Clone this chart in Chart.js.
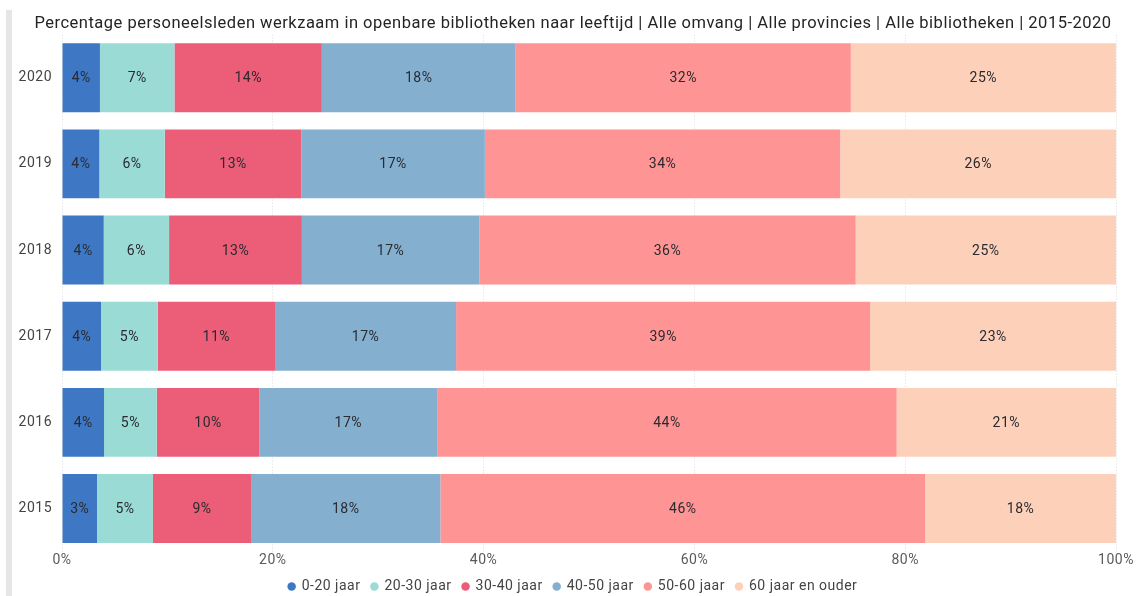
<!DOCTYPE html>
<html><head><meta charset="utf-8">
<script src="https://cdn.jsdelivr.net/npm/chart.js@4"></script>
<style>
html,body{margin:0;padding:0;background:#fff;}
#wrap{position:relative;width:1137px;height:596px;overflow:hidden;}
#stripe{position:absolute;left:6px;top:10px;width:6px;height:586px;background:#e6e6e6;}
canvas{position:absolute;left:0;top:0;}
</style></head><body>
<div id="wrap"><div id="stripe"></div><canvas id="c" width="1137" height="612"></canvas></div>
<script>
const years = ['2020','2019','2018','2017','2016','2015'];
const seriesNames = ['0-20 jaar','20-30 jaar','30-40 jaar','40-50 jaar','50-60 jaar','60 jaar en ouder'];
const age0to20  = [3.60, 3.54, 3.96, 3.70, 3.99, 3.32];
const age20to30 = [7.07, 6.21, 6.20, 5.38, 5.00, 5.31];
const age30to40 = [13.98, 12.96, 12.60, 11.13, 9.74, 9.30];
const age40to50 = [18.39, 17.41, 16.83, 17.18, 16.86, 17.97];
const age50to60 = [31.80, 33.72, 35.71, 39.29, 43.60, 46.00];
const age60plus = [25.15, 26.17, 24.70, 23.32, 20.81, 18.10];
const xTicks = [0, 20, 40, 60, 80, 100];
const colors = ['#3E78C4','#9ADBD5','#EC5D78','#84AFCF','#FE9494','#FDD0BA'];
const titleText = 'Percentage personeelsleden werkzaam in openbare bibliotheken naar leeftijd | Alle omvang | Alle provincies | Alle bibliotheken | 2015-2020';

const FONT = 'Roboto';
const SPACING = '0.5px';
const seriesData = [age0to20, age20to30, age30to40, age40to50, age50to60, age60plus];

const spacingPlugin = {
  id: 'spacing',
  beforeUpdate(chart) { chart.ctx.letterSpacing = SPACING; },
  beforeDraw(chart) { chart.ctx.letterSpacing = SPACING; }
};

const barLabels = {
  id: 'barLabels',
  afterDatasetsDraw(chart) {
    const ctx = chart.ctx;
    ctx.save();
    ctx.letterSpacing = SPACING;
    ctx.font = '14px ' + FONT;
    ctx.fillStyle = '#2a2a30';
    ctx.textAlign = 'center';
    ctx.textBaseline = 'middle';
    chart.data.datasets.forEach((ds, i) => {
      const meta = chart.getDatasetMeta(i);
      if (meta.hidden) return;
      meta.data.forEach((el, j) => {
        const p = el.getProps(['x', 'y', 'base'], true);
        ctx.fillText(Math.round(ds.data[j]) + '%', (p.x + p.base) / 2, p.y + 1);
      });
    });
    ctx.restore();
  }
};

new Chart(document.getElementById('c'), {
  type: 'bar',
  data: {
    labels: years,
    datasets: seriesNames.map((n, i) => ({
      label: n,
      data: seriesData[i],
      backgroundColor: colors[i],
      borderWidth: 0,
      barPercentage: 0.8,
      categoryPercentage: 1.0
    }))
  },
  options: {
    indexAxis: 'y',
    responsive: false,
    animation: false,
    layout: { padding: { left: 0, right: -9, top: 12, bottom: 8.6 } },
    scales: {
      x: {
        stacked: true,
        min: 0, max: 100,
        afterBuildTicks: (s) => { s.ticks = xTicks.map(v => ({ value: v })); },
        ticks: { callback: v => v + '%', color: '#5a5a5a', font: { family: FONT, size: 14 }, padding: 0, maxRotation: 0 },
        grid: { color: '#dcdcdc', drawTicks: false, lineWidth: 1 },
        border: { display: false, dash: [1, 2] },
        afterFit: (s) => { s.height = 16.8; }
      },
      y: {
        stacked: true,
        ticks: { color: '#444', font: { family: FONT, size: 14 }, padding: 10 },
        grid: { display: false, drawTicks: false },
        border: { display: false },
        afterFit: (s) => { s.width = 62; }
      },
      yRight: {
        type: 'category',
        position: 'right',
        display: true,
        ticks: { display: false },
        grid: { display: false, drawTicks: false },
        border: { display: false },
        afterFit: (s) => { s.width = 30; }
      }
    },
    plugins: {
      title: {
        display: true, text: titleText, color: '#252423',
        font: { family: FONT, size: 16.5, weight: 'normal' },
        padding: { top: 1.6, bottom: 1.2 }
      },
      legend: {
        position: 'bottom',
        labels: {
          usePointStyle: true, pointStyle: 'circle', boxWidth: 6, boxHeight: 6,
          color: '#444', font: { family: FONT, size: 14 }, padding: 11
        }
      },
      tooltip: { enabled: false }
    }
  },
  plugins: [spacingPlugin, barLabels]
});
</script>
</body></html>
